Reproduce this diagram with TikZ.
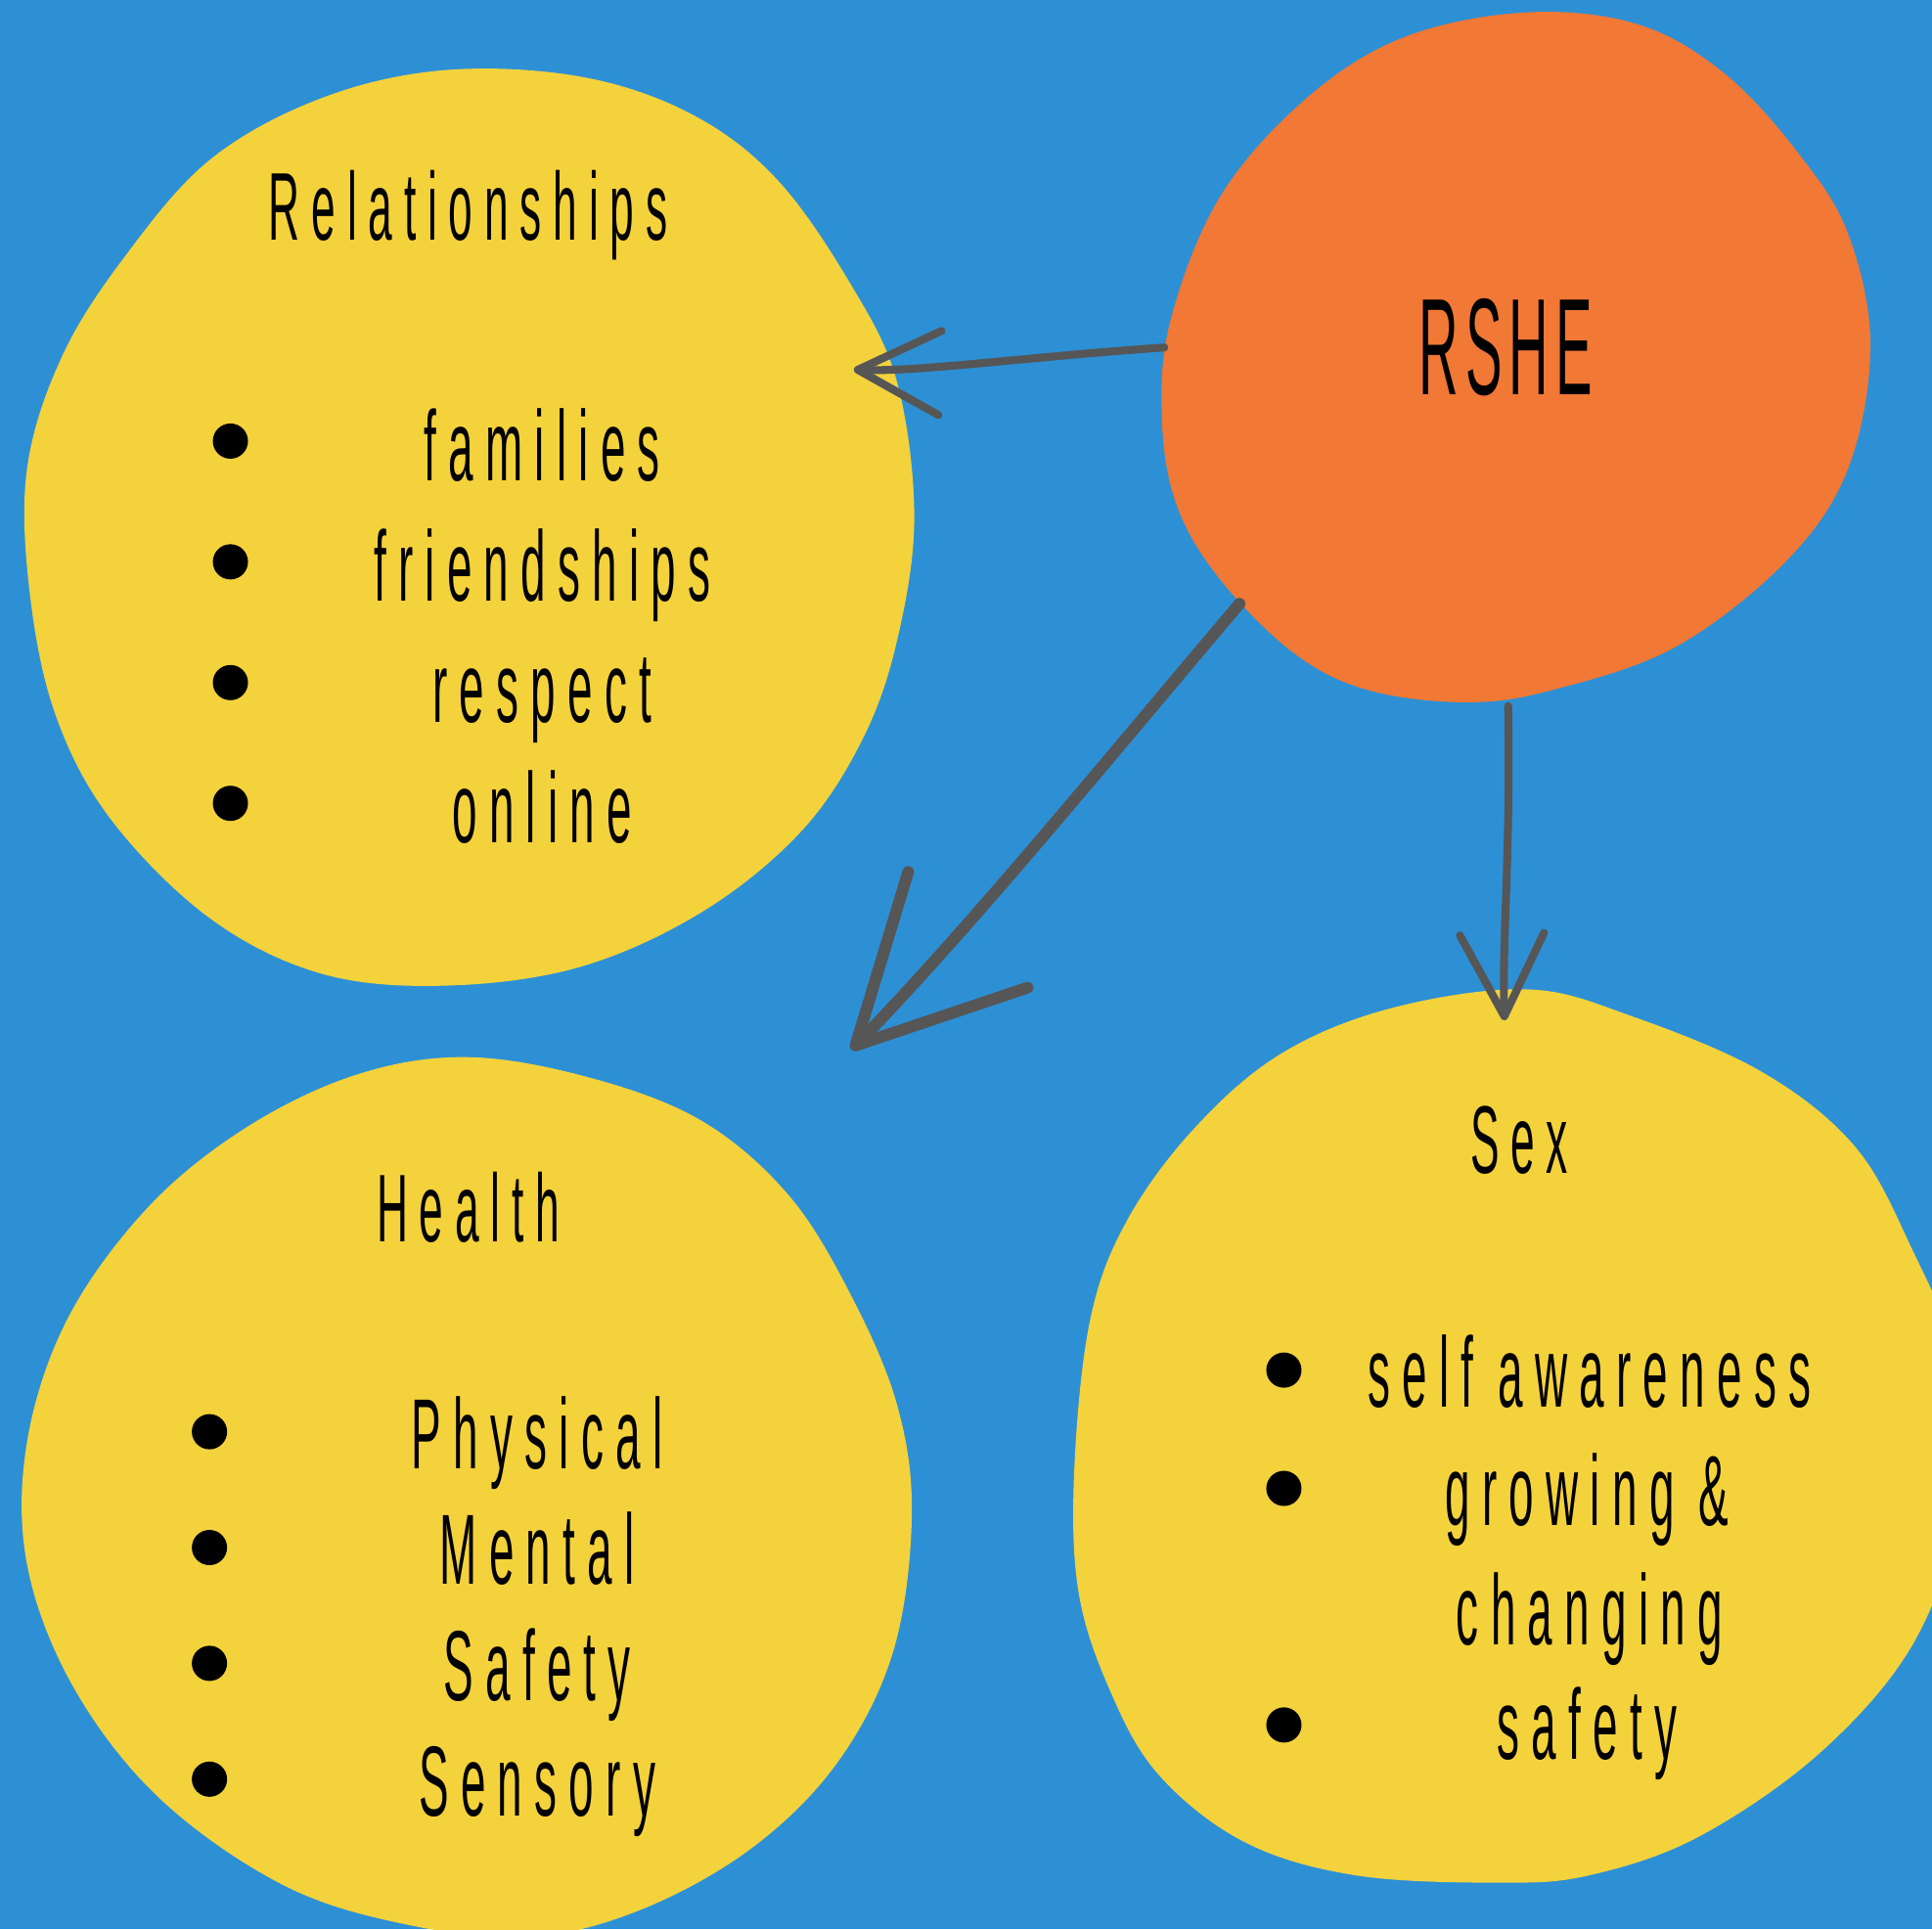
\documentclass[tikz,border=0pt]{standalone}
\usepackage{fontspec}
\usepackage{tikz}
\usetikzlibrary{arrows.meta}

\newfontfamily\hand{Liberation Sans}[FakeStretch=0.45,LetterSpace=12]
\newfontfamily\handcaps{Liberation Sans}[FakeStretch=0.4,LetterSpace=5]

\definecolor{sky}{HTML}{2D90D5}
\definecolor{sunny}{HTML}{F4D23C}
\definecolor{tangerine}{HTML}{F17835}
\definecolor{ink}{HTML}{565656}

\begin{document}
\begin{tikzpicture}[x=0.12596mm,y=-0.12596mm,
	title/.style={anchor=base,font=\hand\fontsize{28}{34}\selectfont},
	item/.style={anchor=base,font=\hand\fontsize{29}{34}\selectfont},
	dot/.style={circle,fill=black,inner sep=0pt,minimum size=3.6mm},
	link/.style={draw=ink,line width=2.3pt,line cap=round,-{Straight Barb[length=8.4mm,width=8.6mm,round]}},
	biglink/.style={link,line width=3.4pt,-{Straight Barb[length=16.5mm,width=17mm,round]}}]

	\useasboundingbox (0,0) rectangle (1568,1566);
	\clip (0,0) rectangle (1568,1566);
	\fill[sky] (0,0) rectangle (1568,1566);

	% the four blobs
	\fill[sunny] plot[smooth cycle,tension=0.6] coordinates {
		(360,57) (470,62) (560,92) (630,145) (690,230) (728,310) (742,420)
		(728,520) (700,600) (650,675) (570,740) (470,785) (360,800) (260,790)
		(170,745) (90,665) (45,580) (24,480) (22,380) (50,290) (100,210) (170,130) (260,80)};
	\fill[tangerine] plot[smooth cycle,tension=0.6] coordinates {
		(1240,10) (1330,20) (1400,60) (1460,125) (1500,190) (1518,280)
		(1500,380) (1450,455) (1360,525) (1260,560) (1190,570) (1110,560) (1050,530)
		(990,470) (955,410) (943,340) (950,260) (990,160) (1060,80) (1140,30)};
	\fill[sunny] plot[smooth cycle,tension=0.6] coordinates {
		(380,858) (480,875) (570,910) (640,970) (690,1050) (728,1140) (740,1230)
		(725,1340) (680,1430) (610,1500) (520,1550) (430,1572) (330,1562) (230,1530)
		(130,1460) (60,1370) (22,1270) (22,1170) (55,1070) (120,980) (200,915) (290,872)};
	\fill[sunny] plot[smooth cycle,tension=0.6] coordinates {
		(1240,803) (1325,825) (1430,870) (1505,930) (1550,1010) (1585,1100) (1590,1220)
		(1555,1330) (1480,1420) (1380,1490) (1290,1522) (1215,1528)
		(1100,1522) (1010,1495) (940,1440) (900,1370) (875,1290) (872,1190)
		(885,1070) (915,990) (970,915) (1040,855) (1130,818)};

	% headings
	\node[anchor=base,font=\handcaps\fontsize{40}{48}\selectfont] (rshe) at (1222,320) {RSHE};
	\node[title] (rel) at (380,195) {Relationships};
	\node[title] (health) at (380,1008) {Health};
	\node[title] (sex) at (1233,952) {Sex};

	% bullet lists
	\foreach \t [count=\i] in {families,friendships,respect,online} {
		\node[dot] (rel-dot\i) at (187,260+98*\i) {};
		\node[item] (rel-item\i) at (440,292+98*\i) {\t};
	}
	\foreach \t [count=\i] in {Physical,Mental,Safety,Sensory} {
		\node[dot] (health-dot\i) at (170,1068+94*\i) {};
		\node[item] (health-item\i) at (436,1098+94*\i) {\t};
	}
	\node[dot] (sex-dot1) at (1042,1112) {};
	\node[item] (sex-item1) at (1290,1142) {self awareness};
	\node[dot] (sex-dot2) at (1042,1208) {};
	\node[item] (sex-item2) at (1288,1238) {growing \&};
	\node[item] (sex-item2b) at (1290,1335) {changing};
	\node[dot] (sex-dot3) at (1042,1400) {};
	\node[item] (sex-item3) at (1288,1428) {safety};

	% arrows out of the centre blob
	\coordinate (rshe-w) at (945,282);
	\coordinate (rel-e) at (693,300);
	\coordinate (rshe-sw) at (1006,490);
	\coordinate (health-ne) at (691,852);
	\coordinate (rshe-s) at (1224,573);
	\coordinate (sex-n) at (1221,828);

	\draw[link] (rshe-w) .. controls (830,290) and (745,302) .. (rel-e);
	\draw[biglink] (rshe-sw) .. controls (900,615) and (790,750) .. (health-ne);
	\draw[link] (rshe-s) .. controls (1226,700) and (1219,760) .. (sex-n);
\end{tikzpicture}
\end{document}
